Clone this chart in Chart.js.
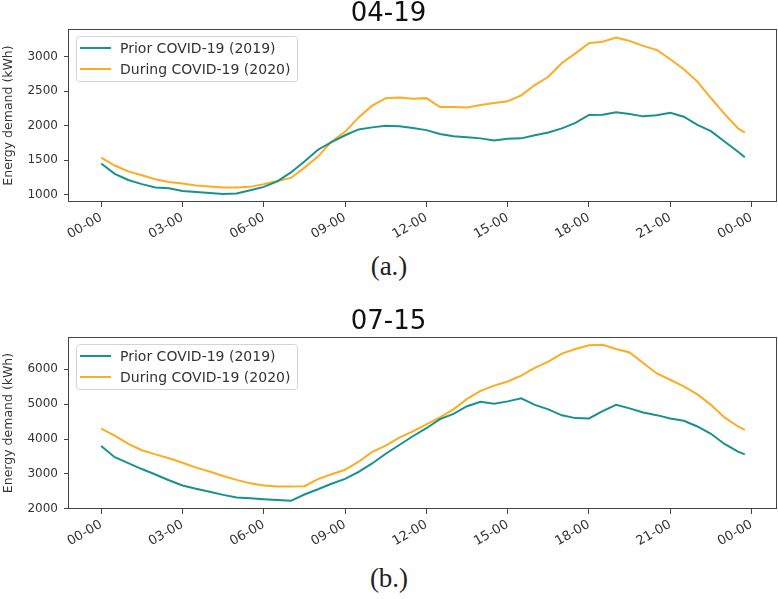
<!DOCTYPE html>
<html>
<head>
<meta charset="utf-8">
<script src="https://cdn.jsdelivr.net/npm/chart.js@4/dist/chart.umd.min.js"></script>
<style>
  html, body { margin:0; padding:0; background:#fff; }
  #wrap { position:relative; width:778px; height:599px; overflow:hidden; background:#fff; }
  canvas { position:absolute; left:0; }
  .cap { position:absolute; left:0; width:778px; text-align:center; font-family:"Liberation Serif", serif; font-size:27px; color:#222; line-height:30px; }
</style>
</head>
<body>
<div id="wrap">
  <canvas id="chartA" width="778" height="250" style="top:0;width:778px;height:250px"></canvas>
  <div class="cap" style="top:251px">(a.)</div>
  <canvas id="chartB" width="778" height="249" style="top:308px;width:778px;height:249px"></canvas>
  <div class="cap" style="top:563px">(b.)</div>
</div>
<script>
// time of day in hours (half-hour readings, last point 23:45)
const hours = [0,0.5,1,1.5,2,2.5,3,3.5,4,4.5,5,5.5,6,6.5,7,7.5,8,8.5,9,9.5,10,10.5,11,11.5,
  12,12.5,13,13.5,14,14.5,15,15.5,16,16.5,17,17.5,18,18.5,19,19.5,20,20.5,21,21.5,22,22.5,23,23.5,23.75];

const tickHours  = [0,3,6,9,12,15,18,21,24];
const tickLabels = ['00-00','03-00','06-00','09-00','12-00','15-00','18-00','21-00','00-00'];
const seriesNames = ['Prior COVID-19 (2019)','During COVID-19 (2020)'];

// (a.) 04-19
const aTitle = '04-19';
const aYTicks = [1000,1500,2000,2500,3000];
const a2019 = [1450,1300,1210,1150,1100,1090,1050,1035,1020,1005,1015,1060,1110,1190,1320,1480,1650,1760,
  1860,1945,1975,2000,1990,1965,1935,1880,1845,1830,1815,1785,1810,1815,1860,1900,1960,2040,
  2155,2160,2195,2170,2135,2150,2187,2130,2010,1920,1770,1620,1540];
const a2020 = [1535,1420,1335,1280,1220,1180,1160,1130,1115,1102,1100,1110,1150,1195,1240,1390,1550,1770,
  1910,2120,2290,2400,2410,2390,2400,2270,2270,2264,2300,2330,2355,2440,2590,2710,2910,3050,
  3200,3220,3280,3230,3160,3100,2965,2820,2640,2400,2170,1960,1900];

// (b.) 07-15
const bTitle = '07-15';
const bYTicks = [2000,3000,4000,5000,6000];
const b2019 = [3800,3480,3310,3140,2985,2820,2670,2575,2490,2400,2325,2300,2275,2255,2230,2410,2560,2720,
  2860,3060,3300,3580,3830,4080,4310,4570,4720,4940,5070,5010,5080,5170,4980,4850,4680,4600,
  4590,4800,4980,4880,4760,4685,4590,4525,4360,4150,3860,3640,3560];
const b2020 = [4300,4100,3860,3680,3560,3450,3320,3180,3070,2940,2830,2730,2670,2640,2640,2650,2850,2990,
  3120,3350,3630,3810,4040,4220,4420,4620,4850,5150,5380,5530,5650,5820,6040,6220,6450,6580,
  6690,6700,6580,6480,6180,5880,5700,5510,5280,4980,4620,4360,4260];

const colors = ['#17928e','#ffab22'];
const FONT = 'DejaVu Sans';

function pts(vals){ return hours.map((h,i)=>({x:h, y:vals[i]})); }

// frame around plot + legend inside upper left
const framePlugin = {
  id:'frame',
  afterDatasetsDraw(chart){
    const {ctx, chartArea:a} = chart;
    ctx.save();
    ctx.strokeStyle = '#444';
    ctx.lineWidth = 1;
    ctx.strokeRect(Math.round(a.left)-0.5, Math.round(a.top)+0.5, Math.round(a.right-a.left), Math.round(a.bottom-a.top)-1);

    // legend
    const bx = a.left + 7, by = a.top + 7, bw = 221, bh = 45;
    ctx.fillStyle = 'rgba(255,255,255,0.85)';
    ctx.strokeStyle = '#d4d4d4';
    ctx.beginPath();
    ctx.roundRect(bx+0.5, by+0.5, bw, bh, 3);
    ctx.fill(); ctx.stroke();
    ctx.font = '14px "' + FONT + '"';
    ctx.textBaseline = 'middle';
    ctx.textAlign = 'left';
    chart.data.datasets.forEach((ds,i)=>{
      const yy = by + 12 + i*21;
      ctx.strokeStyle = ds.borderColor;
      ctx.lineWidth = 2;
      ctx.beginPath(); ctx.moveTo(bx+4, yy); ctx.lineTo(bx+35, yy); ctx.stroke();
      ctx.fillStyle = '#333';
      ctx.fillText(ds.label, bx+44, yy+1);
    });
    ctx.restore();
  }
};

function makeChart(id, title, yTicks, ymin, ymax, s2019, s2020){
  return new Chart(document.getElementById(id), {
    type:'line',
    data:{
      datasets:[
        { label:seriesNames[0], data:pts(s2019), borderColor:colors[0], borderWidth:2, pointRadius:0, tension:0 },
        { label:seriesNames[1], data:pts(s2020), borderColor:colors[1], borderWidth:2, pointRadius:0, tension:0 }
      ]
    },
    options:{
      responsive:false,
      animation:false,
      layout:{ padding:{ left:0, right:1, top:0, bottom:0 } },
      plugins:{
        legend:{ display:false },
        tooltip:{ enabled:false },
        title:{ display:true, text:title, color:'#111',
          font:{ family:FONT, size:26, weight:'normal', lineHeight:1 },
          padding:{ top:1, bottom:2 } }
      },
      scales:{
        x:{
          type:'linear', min:-1.1875, max:24.9375,
          afterBuildTicks: s => { s.ticks = tickHours.map(v=>({value:v})); },
          afterFit: s => { s.height = 48; },
          border:{ display:false },
          grid:{ drawOnChartArea:false, drawTicks:true, tickLength:5, color:'#444' },
          ticks:{ autoSkip:false, maxRotation:30, minRotation:30, padding:3, color:'#333',
            font:{ family:FONT, size:13 },
            callback: v => tickLabels[tickHours.indexOf(v)] }
        },
        y:{
          min:ymin, max:ymax,
          afterBuildTicks: s => { s.ticks = yTicks.map(v=>({value:v})); },
          afterFit: s => { s.width = 69; },
          border:{ display:false },
          grid:{ drawOnChartArea:false, drawTicks:true, tickLength:5, color:'#444' },
          ticks:{ padding:6, color:'#333', font:{ family:FONT, size:12 }, callback: v => String(v) },
          title:{ display:true, text:'Energy demand (kWh)', color:'#333',
            font:{ family:FONT, size:12.5 }, padding:{ top:1, bottom:0 } }
        }
      }
    },
    plugins:[framePlugin]
  });
}

makeChart('chartA', aTitle, aYTicks, 890, 3405, a2019, a2020);
makeChart('chartB', bTitle, bYTicks, 1995, 6925, b2019, b2020);
</script>
</body>
</html>
